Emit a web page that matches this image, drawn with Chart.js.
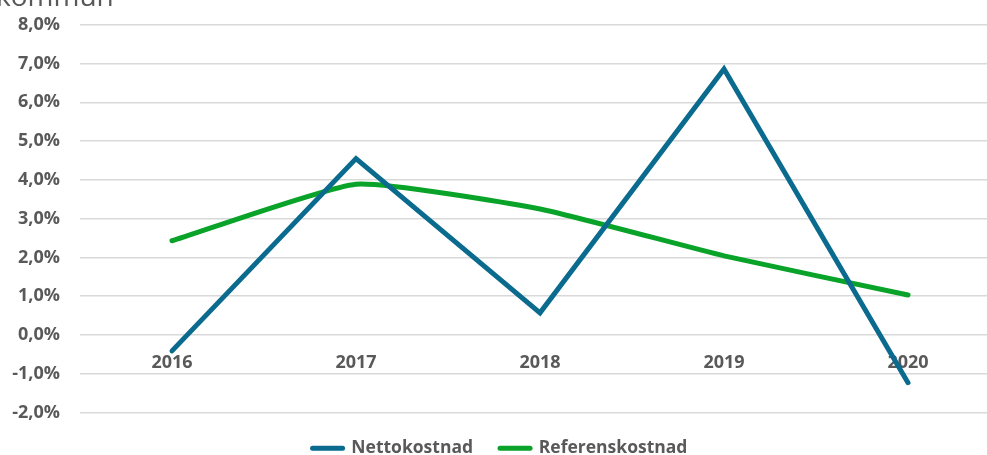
<!DOCTYPE html>
<html>
<head>
<meta charset="utf-8">
<script src="https://cdn.jsdelivr.net/npm/chart.js@4/dist/chart.umd.min.js"></script>
<style>
  html, body { margin: 0; padding: 0; background: #fff; overflow: hidden; }
  #wrap { position: relative; width: 1000px; height: 455px; overflow: hidden; }
  #chart { position: absolute; left: 0; top: -6px; }
  #title { position: absolute; left: -4px; top: -24px; font: 28px "Open Sans", sans-serif; color: #595959; white-space: nowrap; }
</style>
</head>
<body>
<div id="wrap">
  <canvas id="chart" width="1000" height="473"></canvas>
  <div id="title">kommun</div>
</div>
<script>
// ── Data ────────────────────────────────────
const YEARS = ["2016", "2017", "2018", "2019", "2020"];
const NETTO = [-0.41, 4.55, 0.57, 6.86, -1.23];
const REFERENS = [2.43, 3.89, 3.25, 2.04, 1.03];

const COLORS = { netto: "#0a6b8f", ref: "#0aa32a", text: "#595959", grid: "#d9d9d9" };
const FONT = { family: "'Open Sans', sans-serif", size: 18, weight: "bold" };

function fmtPct(v) {
  return v.toFixed(1).replace(".", ",") + "%";
}

new Chart(document.getElementById("chart"), {
  type: "line",
  data: {
    labels: YEARS,
    datasets: [
      {
        label: "Nettokostnad",
        data: NETTO,
        borderColor: COLORS.netto,
        backgroundColor: COLORS.netto,
        borderWidth: 5,
        borderCapStyle: "round",
        pointRadius: 0,
        tension: 0,
      },
      {
        label: "Referenskostnad",
        data: REFERENS,
        borderColor: COLORS.ref,
        backgroundColor: COLORS.ref,
        borderWidth: 5,
        borderCapStyle: "round",
        pointRadius: 0,
        tension: 0.15,
      },
    ],
  },
  options: {
    responsive: false,
    animation: false,
    layout: { padding: 0 },
    scales: {
      x: {
        position: { y: 0 },
        offset: true,
        grid: { display: false },
        border: { display: false },
        ticks: { color: COLORS.text, font: FONT, padding: 9, maxRotation: 0 },
      },
      y: {
        min: -2,
        max: 8,
        afterFit: (s) => { s.width = 80; },
        grid: { color: COLORS.grid, lineWidth: 1.5, drawTicks: false },
        border: { display: false },
        ticks: { stepSize: 1, color: COLORS.text, font: FONT, padding: 20, callback: (v) => fmtPct(v) },
      },
    },
    plugins: {
      legend: {
        position: "bottom",
        labels: {
          usePointStyle: true,
          pointStyle: "line",
          pointStyleWidth: 30,
          color: COLORS.text,
          font: { ...FONT, size: 17.5 },
          padding: 27,
          generateLabels: (chart) =>
            Chart.defaults.plugins.legend.labels.generateLabels(chart).map((l) => ({ ...l, lineCap: "round" })),
        },
      },
      tooltip: { enabled: false },
    },
  },
});
</script>
</body>
</html>
